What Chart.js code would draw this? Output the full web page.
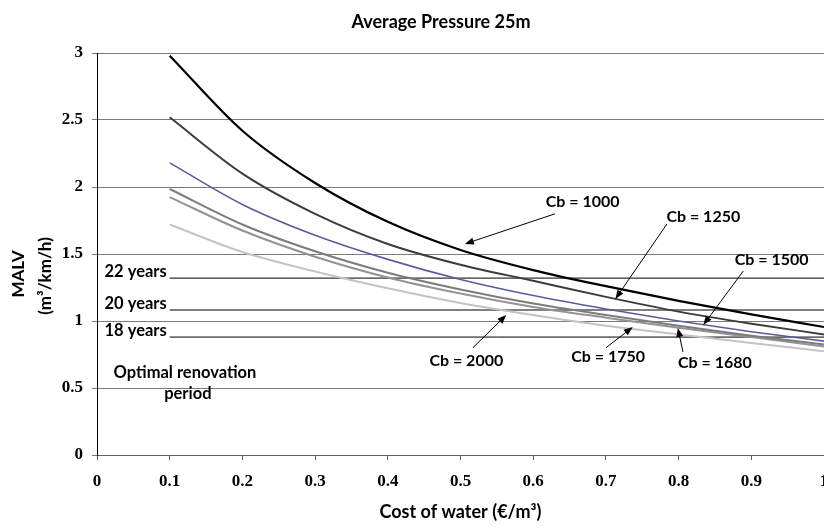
<!DOCTYPE html>
<html>
<head>
<meta charset="utf-8">
<script src="https://cdn.jsdelivr.net/npm/chart.js@4.4.1/dist/chart.umd.min.js"></script>
<style>
  html, body { margin: 0; padding: 0; background: #fff; overflow: hidden; }
  #wrap { width: 824px; height: 529px; position: relative; }
</style>
</head>
<body>
<div id="wrap"><canvas id="chart"></canvas></div>
<script>
// cost of water (€/m³) on the x axis
const costOfWater = [0.1, 0.2, 0.3, 0.4, 0.5, 0.6, 0.7, 0.8, 0.9, 1.0];

// MALV (m³/km/h) for each Cb
const malvCb1000 = [2.98, 2.42, 2.03, 1.74, 1.53, 1.38, 1.26, 1.15, 1.05, 0.955];
const malvCb1250 = [2.52, 2.10, 1.80, 1.575, 1.42, 1.30, 1.18, 1.07, 0.98, 0.90];
const malvCb1500 = [2.18, 1.87, 1.64, 1.46, 1.31, 1.19, 1.09, 1.00, 0.92, 0.85];
const malvCb1680 = [1.985, 1.72, 1.52, 1.36, 1.235, 1.13, 1.045, 0.965, 0.89, 0.825];
const malvCb1750 = [1.925, 1.675, 1.48, 1.325, 1.205, 1.105, 1.025, 0.95, 0.88, 0.81];
const malvCb2000 = [1.72, 1.515, 1.37, 1.245, 1.135, 1.045, 0.965, 0.90, 0.835, 0.775];

// optimal renovation period levels
const yearLabels = ['22 years', '20 years', '18 years'];
const yearLevels = [1.32, 1.082, 0.88];
const yearLineX = [0.1, 1.0];

const FONT = 'Lato, "Open Sans", sans-serif';
const TICK_FONT = '"Liberation Serif", "DejaVu Serif", serif';

const toPoints = (ys) => costOfWater.map((x, i) => ({ x, y: ys[i] }));
const plainNumber = (v) => String(Number(v.toFixed(2)));

const curve = (label, data, color, width) => ({
    label,
    data: toPoints(data),
    borderColor: color,
    borderWidth: width,
    pointRadius: 0,
    fill: false,
    cubicInterpolationMode: 'monotone'
});

const yearLines = yearLevels.map((level, i) => ({
    label: yearLabels[i],
    data: yearLineX.map((x) => ({ x, y: level })),
    borderColor: '#000',
    borderWidth: 1,
    pointRadius: 0,
    fill: false
}));

// label / arrow placement for each curve, in data units
const cbNotes = [
    { text: 'Cb = 1000', at: [0.668, 1.888], from: [0.630, 1.80], to: [0.506, 1.575] },
    { text: 'Cb = 1250', at: [0.834, 1.776], from: [0.784, 1.724], to: [0.713, 1.164] },
    { text: 'Cb = 1500', at: [0.928, 1.455], from: [0.889, 1.373], to: [0.834, 0.970] },
    { text: 'Cb = 2000', at: [0.508, 0.700], from: [0.517, 0.800], to: [0.563, 1.045] },
    { text: 'Cb = 1750', at: [0.703, 0.731], from: [0.700, 0.800], to: [0.737, 0.955] },
    { text: 'Cb = 1680', at: [0.850, 0.687], from: [0.806, 0.769], to: [0.799, 0.948] }
];

const drawArrow = (ctx, x1, y1, x2, y2) => {
    const ang = Math.atan2(y2 - y1, x2 - x1);
    const len = 9, half = 3.5;
    ctx.beginPath();
    ctx.moveTo(x1, y1);
    ctx.lineTo(x2 - Math.cos(ang) * len * 0.8, y2 - Math.sin(ang) * len * 0.8);
    ctx.stroke();
    ctx.beginPath();
    ctx.moveTo(x2, y2);
    ctx.lineTo(x2 - Math.cos(ang) * len - Math.sin(ang) * half, y2 - Math.sin(ang) * len + Math.cos(ang) * half);
    ctx.lineTo(x2 - Math.cos(ang) * len + Math.sin(ang) * half, y2 - Math.sin(ang) * len - Math.cos(ang) * half);
    ctx.closePath();
    ctx.fill();
};

const notesPlugin = {
    id: 'notes',
    afterDatasetsDraw(chart) {
        const { ctx, scales: { x, y } } = chart;
        ctx.save();
        ctx.fillStyle = '#000';
        ctx.strokeStyle = '#000';
        ctx.lineWidth = 1;

        // chart title
        ctx.font = `bold 18px ${FONT}`;
        ctx.textAlign = 'center';
        ctx.textBaseline = 'middle';
        ctx.fillText('Average Pressure 25m', 441, 22);

        // year labels in front of the horizontal lines
        ctx.font = `bold 16.5px ${FONT}`;
        ctx.textAlign = 'right';
        ctx.textBaseline = 'alphabetic';
        yearLevels.forEach((level, i) => {
            ctx.fillText(yearLabels[i], x.getPixelForValue(yearLineX[0]) - 3, y.getPixelForValue(level) - 1);
        });

        ctx.textAlign = 'center';
        ctx.textBaseline = 'middle';
        ctx.fillText('Optimal renovation', x.getPixelForValue(0.121), y.getPixelForValue(0.612));
        ctx.fillText('period', x.getPixelForValue(0.125), y.getPixelForValue(0.455));

        ctx.font = `bold 16px ${FONT}`;
        cbNotes.forEach((n) => {
            ctx.fillText(n.text, x.getPixelForValue(n.at[0]), y.getPixelForValue(n.at[1]));
            drawArrow(ctx,
                x.getPixelForValue(n.from[0]), y.getPixelForValue(n.from[1]),
                x.getPixelForValue(n.to[0]), y.getPixelForValue(n.to[1]));
        });

        // y axis title, two rotated lines
        ctx.font = `bold 17px ${FONT}`;
        ctx.translate(19, 274);
        ctx.rotate(-Math.PI / 2);
        ctx.fillText('MALV', 0, 0);
        ctx.fillText('(m³/km/h)', -2, 27);
        ctx.restore();
    }
};

new Chart(document.getElementById('chart'), {
    type: 'line',
    data: {
        datasets: [
            curve('Cb=1000', malvCb1000, '#000000', 2.2),
            curve('Cb=1250', malvCb1250, '#3c3c3c', 2),
            curve('Cb=1500', malvCb1500, '#5c5c9c', 1.6),
            curve('Cb=1680', malvCb1680, '#7c7c7c', 2),
            curve('Cb=1750', malvCb1750, '#939393', 2),
            curve('Cb=2000', malvCb2000, '#c4c4c4', 2),
            ...yearLines
        ]
    },
    options: {
        responsive: true,
        maintainAspectRatio: false,
        animation: false,
        layout: { padding: { top: 53 } },
        plugins: {
            legend: { display: false },
            tooltip: { enabled: false },
            title: { display: false }
        },
        scales: {
            x: {
                type: 'linear',
                min: 0,
                max: 1,
                ticks: {
                    stepSize: 0.1,
                    padding: 11,
                    color: '#000',
                    font: { family: TICK_FONT, size: 17, weight: 'bold' },
                    callback: plainNumber
                },
                grid: { drawOnChartArea: false, tickLength: 5, color: '#606060' },
                border: { color: '#606060' },
                title: {
                    display: true,
                    text: 'Cost of water (€/m³)',
                    color: '#000',
                    font: { family: FONT, size: 18, weight: 'bold' },
                    padding: { top: 8, bottom: 6 }
                },
                afterFit(scale) {
                    scale.height = 74;
                    scale.paddingLeft = 0;
                    scale.paddingRight = 0;
                }
            },
            y: {
                min: 0,
                max: 3,
                ticks: {
                    stepSize: 0.5,
                    padding: 9,
                    color: '#000',
                    font: { family: TICK_FONT, size: 17, weight: 'bold' },
                    callback: plainNumber
                },
                grid: { color: '#7a7a7a', tickLength: 5 },
                border: { color: '#000' },
                afterFit(scale) {
                    scale.width = 97;
                    scale.paddingTop = 0;
                }
            }
        }
    },
    plugins: [notesPlugin]
});
</script>
</body>
</html>
